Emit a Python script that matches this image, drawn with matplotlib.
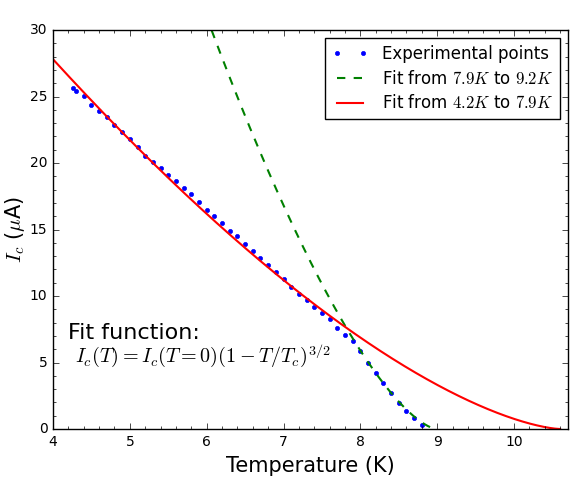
import matplotlib
matplotlib.use("Agg")
import matplotlib.pyplot as plt
import numpy as np
from matplotlib.ticker import MultipleLocator

plt.style.use("classic")
plt.rcParams["mathtext.fontset"] = "cm"

temperatura = [4.26, 4.30, 4.40, 4.50, 4.60, 4.70, 4.80, 4.90, 5.00, 5.10,
               5.20, 5.30, 5.40, 5.50, 5.60, 5.70, 5.80, 5.90, 6.00, 6.10,
               6.20, 6.30, 6.40, 6.50, 6.60, 6.70, 6.80, 6.90, 7.00, 7.10,
               7.20, 7.30, 7.40, 7.50, 7.60, 7.70, 7.80, 7.90, 8.00, 8.10,
               8.20, 8.30, 8.40, 8.50, 8.60, 8.70, 8.80]
corriente = [25.66, 25.40, 25.06, 24.40, 23.90, 23.46, 22.90, 22.35, 21.78, 21.20,
             20.55, 20.10, 19.65, 19.07, 18.62, 18.10, 17.70, 17.04, 16.49, 16.04,
             15.51, 14.89, 14.49, 13.93, 13.36, 12.86, 12.33, 11.80, 11.25, 10.70,
             10.17, 9.70, 9.17, 8.69, 8.24, 7.57, 7.09, 6.62, 5.86, 4.93,
             4.18, 3.43, 2.73, 1.93, 1.38, 0.80, 0.28]

# Parametros de los ajustes Ic(T) = Ic0 (1 - T/Tc)^(3/2)
ic0_alto, tc_alto = 161.5, 8.99   # ajuste de 7.9K a 9.2K
ic0_bajo, tc_bajo = 56.6, 10.60   # ajuste de 4.2K a 7.9K


def ajuste(t, ic0, tc):
    base = 1 - t / tc
    return np.where(base >= 0, ic0 * np.abs(base) ** 1.5, np.nan)


t = np.linspace(4, 10.7, 600)

fig = plt.figure(figsize=(5.73, 4.78), dpi=100, facecolor="white")
ax = fig.add_axes([0.0925, 0.1025, 0.8985, 0.8345])

ax.plot(temperatura, corriente, "b.", markersize=6, label="Experimental points")
ax.plot(t, ajuste(t, ic0_alto, tc_alto), "g--", linewidth=1.5,
        label="Fit from $7.9K$ to $9.2K$")
ax.plot(t, ajuste(t, ic0_bajo, tc_bajo), "r-", linewidth=1.5,
        label="Fit from $4.2K$ to $7.9K$")

ax.set_xlim(4, 10.7)
ax.set_ylim(0, 30)
ax.xaxis.set_minor_locator(MultipleLocator(0.2))
ax.yaxis.set_minor_locator(MultipleLocator(1))
ax.tick_params(labelsize=10)

ax.set_xlabel("Temperature (K)", fontsize=15)
ax.set_ylabel(r"$I_c$ ($\mu$A)", fontsize=15, labelpad=2)

ax.text(4.2, 6.8, "Fit function:", fontsize=16)
ax.text(4.28, 5.0, r"$I_c(T) = I_c(T{=}0)(1-T/T_c)^{3/2}$", fontsize=14.5)

ax.legend(loc="upper right", fontsize=12, numpoints=2, handlelength=2.2,
          labelspacing=0.4)

fig.savefig("out.png", dpi=100, facecolor="white")
